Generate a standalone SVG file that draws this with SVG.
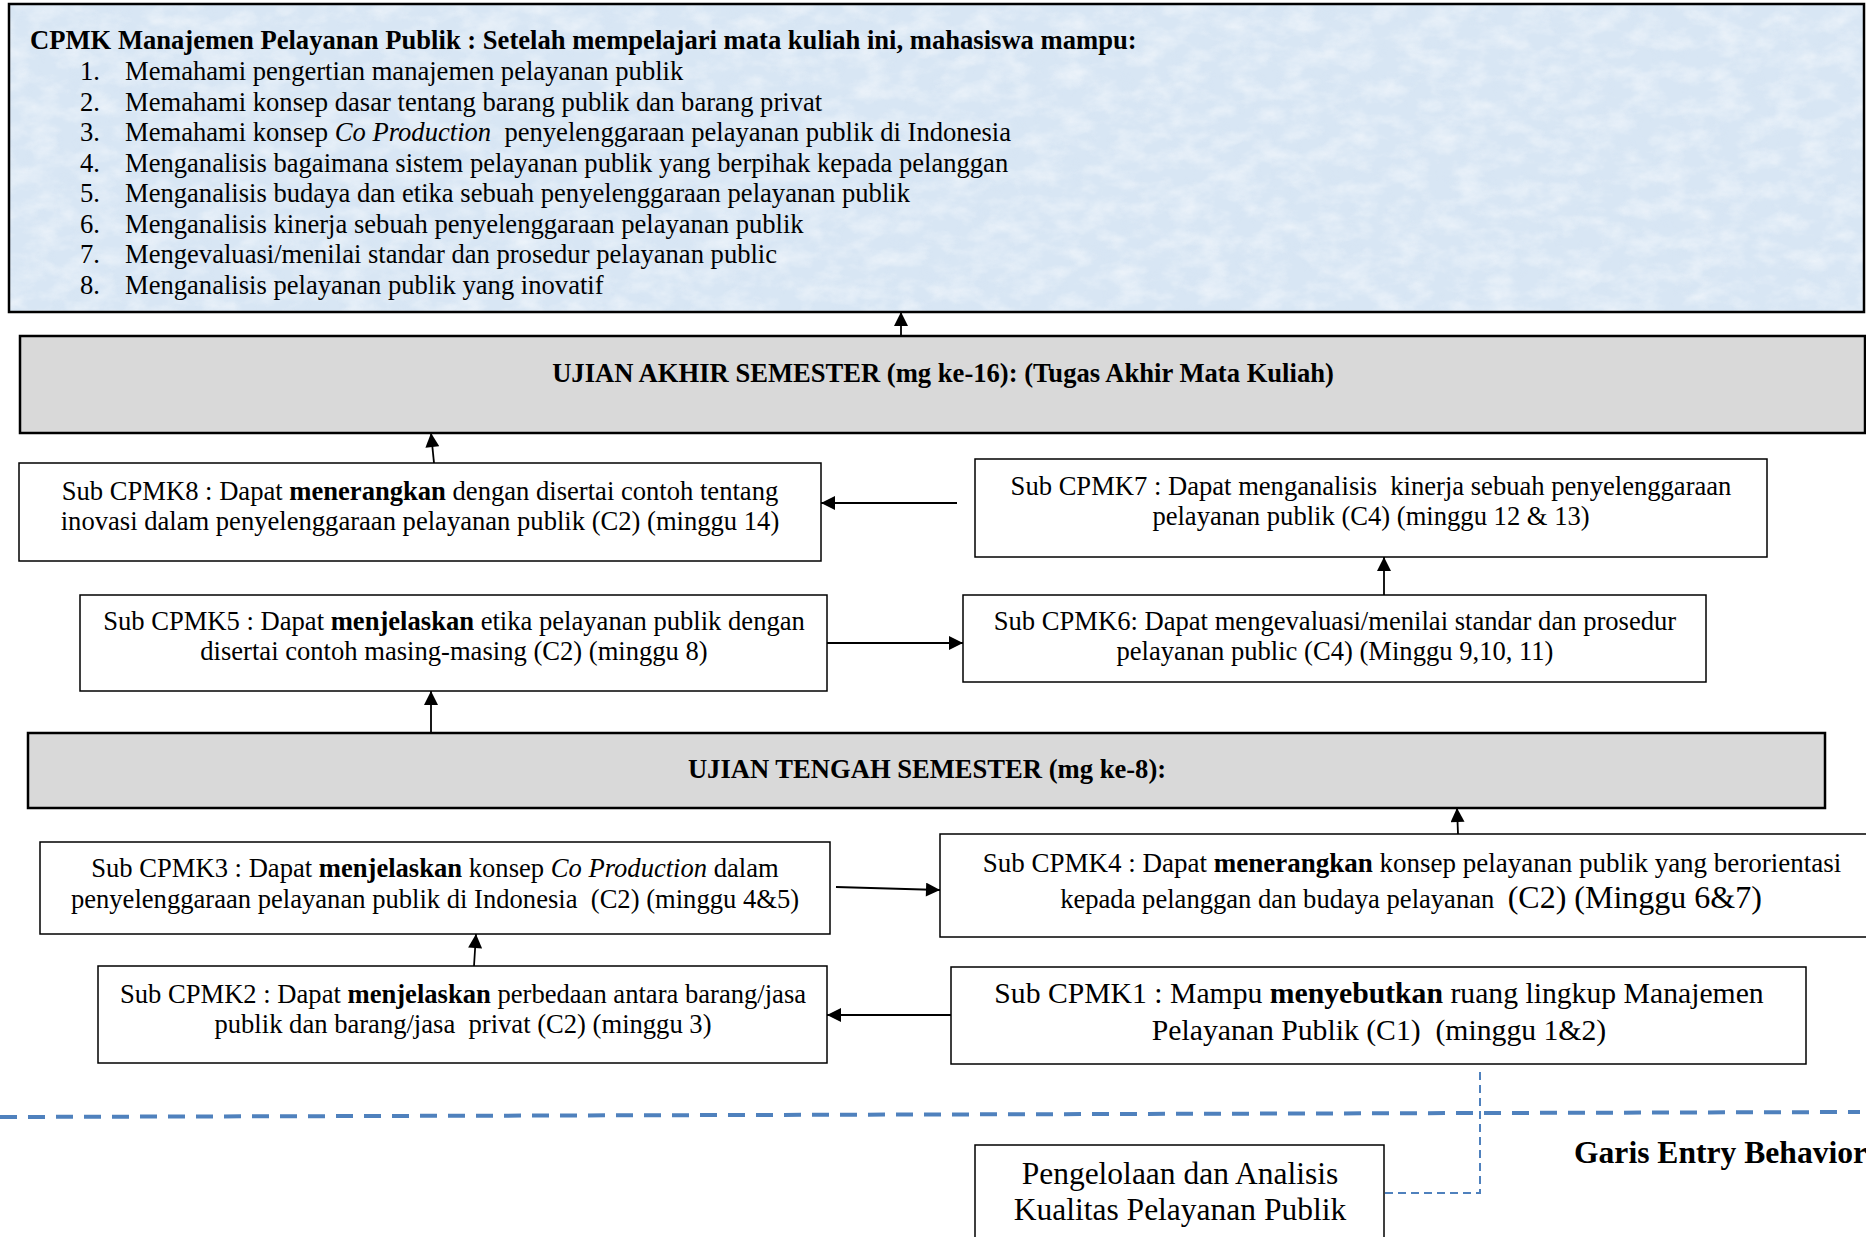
<svg xmlns="http://www.w3.org/2000/svg" width="1866" height="1237" viewBox="0 0 1866 1237">
<style>
text{font-family:"Liberation Serif","Times New Roman",serif;fill:#000;white-space:pre}
.t{font-size:26.6px}
.b{font-weight:bold}
.i{font-style:italic}
.m{text-anchor:middle}
.box{fill:#fff;stroke:#000;stroke-width:1.5}
.gray{fill:#d9d9d9;stroke:#000;stroke-width:2.5}
.conn{stroke:#000;stroke-width:1.8;fill:none;marker-end:url(#arr)}
</style>
<defs>
<marker id="arr" viewBox="0 0 14 14" refX="14" refY="7" markerWidth="15" markerHeight="14" markerUnits="userSpaceOnUse" orient="auto">
<path d="M0,0 L14,7 L0,14 Z" fill="#000"/>
</marker>
<filter id="tex" x="0" y="0" width="100%" height="100%">
<feTurbulence type="fractalNoise" baseFrequency="0.035 0.06" numOctaves="4" seed="7"/>
<feColorMatrix type="matrix" values="0 0 0 0 1  0 0 0 0 1  0 0 0 0 1  0 0 0 1.3 -0.5"/>
</filter>
<filter id="tex2" x="0" y="0" width="100%" height="100%">
<feTurbulence type="turbulence" baseFrequency="0.06 0.03" numOctaves="3" seed="2"/>
<feColorMatrix type="matrix" values="0 0 0 0 0.66  0 0 0 0 0.77  0 0 0 0 0.9  0 0 0 1 -0.3"/>
</filter>
</defs>
<rect width="1866" height="1237" fill="#fff"/>

<g id="cpmk-main">
<rect x="9" y="4" width="1855" height="308" fill="#d8e6f4"/>
<rect x="9" y="4" width="1855" height="308" filter="url(#tex2)" opacity="0.35"/>
<rect x="9" y="4" width="1855" height="308" filter="url(#tex)" opacity="0.7"/>
<rect x="9" y="4" width="1855" height="308" fill="none" stroke="#000" stroke-width="2.5"/>
<text class="t b" x="30" y="49">CPMK Manajemen Pelayanan Publik : Setelah mempelajari mata kuliah ini, mahasiswa mampu:</text>
<text class="t" x="80" y="80">1.</text><text class="t" x="125" y="80">Memahami pengertian manajemen pelayanan publik</text>
<text class="t" x="80" y="110.5">2.</text><text class="t" x="125" y="110.5">Memahami konsep dasar tentang barang publik dan barang privat</text>
<text class="t" x="80" y="141">3.</text><text class="t" x="125" y="141">Memahami konsep <tspan class="i">Co Production</tspan>  penyelenggaraan pelayanan publik di Indonesia</text>
<text class="t" x="80" y="171.5">4.</text><text class="t" x="125" y="171.5">Menganalisis bagaimana sistem pelayanan publik yang berpihak kepada pelanggan</text>
<text class="t" x="80" y="202">5.</text><text class="t" x="125" y="202">Menganalisis budaya dan etika sebuah penyelenggaraan pelayanan publik</text>
<text class="t" x="80" y="232.5">6.</text><text class="t" x="125" y="232.5">Menganalisis kinerja sebuah penyelenggaraan pelayanan publik</text>
<text class="t" x="80" y="263">7.</text><text class="t" x="125" y="263">Mengevaluasi/menilai standar dan prosedur pelayanan public</text>
<text class="t" x="80" y="293.5">8.</text><text class="t" x="125" y="293.5">Menganalisis pelayanan publik yang inovatif</text>
</g>

<g id="uas">
<rect class="gray" x="20" y="336" width="1845" height="97"/>
<text class="t b m" x="943" y="382">UJIAN AKHIR SEMESTER (mg ke-16): (Tugas Akhir Mata Kuliah)</text>
</g>

<g id="sub-cpmk8">
<rect class="box" x="19" y="463" width="802" height="98"/>
<text class="t m" x="420" y="500">Sub CPMK8 : Dapat <tspan class="b">menerangkan</tspan> dengan disertai contoh tentang</text>
<text class="t m" x="420" y="530">inovasi dalam penyelenggaraan pelayanan publik (C2) (minggu 14)</text>
</g>

<g id="sub-cpmk7">
<rect class="box" x="975" y="459" width="792" height="98"/>
<text class="t m" x="1371" y="495">Sub CPMK7 : Dapat menganalisis  kinerja sebuah penyelenggaraan</text>
<text class="t m" x="1371" y="525">pelayanan publik (C4) (minggu 12 &amp; 13)</text>
</g>

<g id="sub-cpmk5">
<rect class="box" x="80" y="595" width="747" height="96"/>
<text class="t m" x="454" y="630">Sub CPMK5 : Dapat <tspan class="b">menjelaskan</tspan> etika pelayanan publik dengan</text>
<text class="t m" x="454" y="660">disertai contoh masing-masing (C2) (minggu 8)</text>
</g>

<g id="sub-cpmk6">
<rect class="box" x="963" y="595" width="743" height="87"/>
<text class="t m" x="1335" y="630">Sub CPMK6: Dapat mengevaluasi/menilai standar dan prosedur</text>
<text class="t m" x="1335" y="660">pelayanan public (C4) (Minggu 9,10, 11)</text>
</g>

<g id="uts">
<rect class="gray" x="28" y="733" width="1797" height="75"/>
<text class="t b m" x="927" y="778">UJIAN TENGAH SEMESTER (mg ke-8):</text>
</g>

<g id="sub-cpmk3">
<rect class="box" x="40" y="842" width="790" height="92"/>
<text class="t m" x="435" y="877">Sub CPMK3 : Dapat <tspan class="b">menjelaskan</tspan> konsep <tspan class="i">Co Production</tspan> dalam</text>
<text class="t m" x="435" y="908">penyelenggaraan pelayanan publik di Indonesia  (C2) (minggu 4&amp;5)</text>
</g>

<g id="sub-cpmk4">
<rect class="box" x="940" y="834" width="950" height="103"/>
<text class="m" x="1412" y="872" style="font-size:27px">Sub CPMK4 : Dapat <tspan class="b">menerangkan</tspan> konsep pelayanan publik yang berorientasi</text>
<text class="m" x="1411" y="908" style="font-size:26.6px">kepada pelanggan dan budaya pelayanan  <tspan style="font-size:32px">(C2) (Minggu 6&amp;7)</tspan></text>
</g>

<g id="sub-cpmk2">
<rect class="box" x="98" y="966" width="729" height="97"/>
<text class="t m" x="463" y="1003">Sub CPMK2 : Dapat <tspan class="b">menjelaskan</tspan> perbedaan antara barang/jasa</text>
<text class="t m" x="463" y="1033">publik dan barang/jasa  privat (C2) (minggu 3)</text>
</g>

<g id="sub-cpmk1">
<rect class="box" x="951" y="967" width="855" height="97"/>
<text class="m" x="1379" y="1003" style="font-size:29.7px">Sub CPMK1 : Mampu <tspan class="b">menyebutkan</tspan> ruang lingkup Manajemen</text>
<text class="m" x="1379" y="1040" style="font-size:29.7px">Pelayanan Publik (C1)  (minggu 1&amp;2)</text>
</g>

<g id="entry-node">
<rect class="box" x="975" y="1145" width="409" height="120"/>
<text class="m" x="1180" y="1184" style="font-size:31.5px">Pengelolaan dan Analisis</text>
<text class="m" x="1180" y="1220" style="font-size:31.5px">Kualitas Pelayanan Publik</text>
</g>

<g id="entry-line">
<line x1="0" y1="1117" x2="1860" y2="1112" stroke="#4f81bd" stroke-width="4" stroke-dasharray="17 11"/>
<text class="b" x="1574" y="1163" style="font-size:31.6px">Garis Entry Behavior</text>
</g>

<g id="connectors">
<path class="conn" d="M901,336 L901,312"/>
<path class="conn" d="M434,463 L431,433"/>
<path class="conn" d="M957,503 L821,503"/>
<path class="conn" d="M1384,595 L1384,557"/>
<path class="conn" d="M827,643 L963,643"/>
<path class="conn" d="M431,733 L431,691"/>
<path class="conn" d="M1458,834 L1457,808"/>
<path class="conn" d="M836,887 L940,890"/>
<path class="conn" d="M474,966 L476,934"/>
<path class="conn" d="M951,1015 L827,1015"/>
<path d="M1480,1072 V1193 H1384" fill="none" stroke="#4f81bd" stroke-width="2" stroke-dasharray="8 5"/>
</g>
</svg>
